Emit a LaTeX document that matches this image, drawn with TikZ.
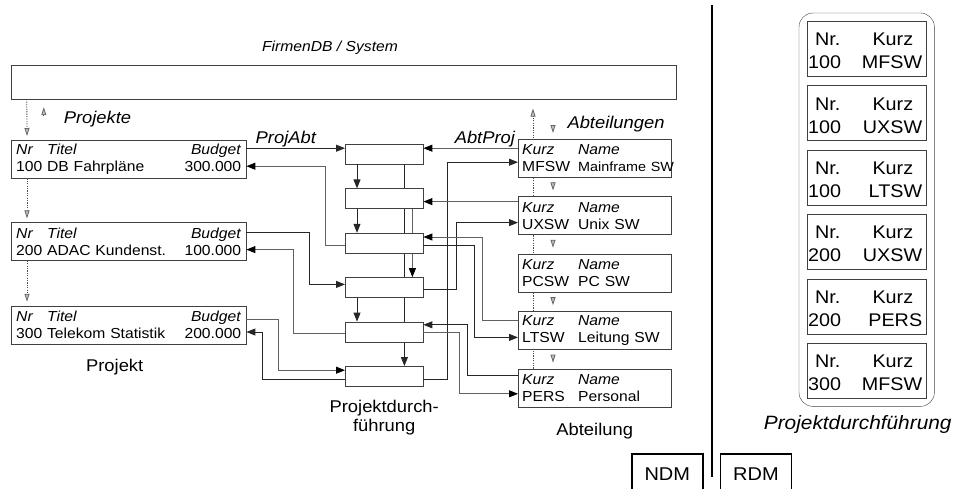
\documentclass[tikz,border=0pt]{standalone}
\usepackage{fontspec}
\setmainfont{Liberation Sans}[FakeStretch=1.08]
\usetikzlibrary{arrows.meta,positioning,fit,backgrounds}

\begin{document}
\begin{tikzpicture}[
  x=1pt, y=1pt,
  font=\fontsize{14.5}{17}\selectfont,
  >={Triangle[length=9pt,width=7pt]},
  sysbox/.style={rectangle, draw=black!75, fill=white, minimum width=665pt, minimum height=34pt},
  projbox/.style={rectangle, draw=black!75, fill=white, text width=225pt, minimum height=38pt,
                  inner xsep=5pt, inner ysep=1pt, align=left},
  abtbox/.style={rectangle, draw=black!75, fill=white, text width=145pt, minimum height=38pt,
                 inner xsep=4pt, inner ysep=1pt, align=left},
  pdbox/.style={rectangle, draw=black!75, fill=white, minimum width=78pt, minimum height=20pt, inner sep=0pt},
  rdmbox/.style={rectangle, draw=black!75, fill=white, text width=117pt, minimum height=55pt,
                 inner xsep=1pt, inner ysep=1pt, align=left, font=\fontsize{18.3}{23}\selectfont},
  pdgroup/.style={rectangle, rounded corners=14pt, draw=black!75, inner sep=8pt},
  modelbox/.style={rectangle, draw=black, line width=1.6pt, minimum width=71pt, minimum height=40pt,
                   font=\fontsize{18.5}{22}\selectfont},
  lbl/.style={inner sep=0pt, font=\fontsize{17}{19}\selectfont},
  ilbl/.style={inner sep=0pt, font=\fontsize{17}{19}\selectfont\itshape},
  link/.style={->, draw=black!85, line width=0.85pt},
  glink/.style={-{Triangle[length=9pt,width=7pt,color=black]}, draw=black!62, line width=0.9pt},
  dotlink/.style={-{Triangle[length=8pt,width=5pt,color=black!60,fill=black!25]}, draw=black!70,
                  line width=0.8pt, dash pattern=on 1.2pt off 1.2pt},
  divider/.style={line width=1.8pt},
]
\useasboundingbox (0,0) rectangle (956,-488);

% FirmenDB
\node[sysbox] (sys) at (343.5,-82) {};
\node[ilbl, font=\fontsize{14.5}{17}\selectfont\itshape, anchor=base] (syslbl) at (330,-51.5) {FirmenDB / System};
\node[ilbl, anchor=base] (projnlbl) at (97.5,-123) {Projekte};
\node[ilbl, anchor=base] (abtnlbl) at (616,-128) {Abteilungen};

% Projekt
\node[projbox, anchor=north west] (p1) at (11,-140) {\makebox[31pt][l]{\textit{Nr}}\textit{Titel}\hfill\textit{Budget}\\100 DB Fahrpläne\hfill 300.000};
\node[projbox, below=44pt of p1] (p2) {\makebox[31pt][l]{\textit{Nr}}\textit{Titel}\hfill\textit{Budget}\\200 ADAC Kundenst.\hfill 100.000};
\node[projbox, below=45pt of p2] (p3) {\makebox[31pt][l]{\textit{Nr}}\textit{Titel}\hfill\textit{Budget}\\300 Telekom Statistik\hfill 200.000};
\node[lbl, below=15pt of p3, xshift=-14pt] (projlbl) {Projekt};

% Projektdurchfuehrung (NDM)
\node[pdbox, anchor=north west] (pd1) at (345,-144) {};
\node[pdbox, below=24pt of pd1] (pd2) {};
\node[pdbox, below=24pt of pd2] (pd3) {};
\node[pdbox, below=24pt of pd3] (pd4) {};
\node[pdbox, below=24pt of pd4] (pd5) {};
\node[pdbox, below=24pt of pd5] (pd6) {};
\node[lbl, align=center, below=14pt of pd6] (pdlbl) {Projektdurch-\\führung};

% Abteilung
\node[abtbox, anchor=north west] (a1) at (518,-139) {\makebox[56pt][l]{\textit{Kurz}}\textit{Name}\\\makebox[56pt][l]{MFSW}{\fontsize{13.3}{17}\selectfont Mainframe~SW}};
\node[abtbox, below=19pt of a1] (a2) {\makebox[56pt][l]{\textit{Kurz}}\textit{Name}\\\makebox[56pt][l]{UXSW}Unix~SW};
\node[abtbox, below=19pt of a2] (a3) {\makebox[56pt][l]{\textit{Kurz}}\textit{Name}\\\makebox[56pt][l]{PCSW}PC~SW};
\node[abtbox, below=19pt of a3] (a4) {\makebox[56pt][l]{\textit{Kurz}}\textit{Name}\\\makebox[56pt][l]{LTSW}Leitung~SW};
\node[abtbox, below=19pt of a4] (a5) {\makebox[56pt][l]{\textit{Kurz}}\textit{Name}\\\makebox[56pt][l]{PERS}Personal};
\node[lbl, below=16pt of a5] (abtlbl) {Abteilung};

% RDM side
\node[rdmbox, anchor=north west] (r1) at (807,-21) {\rule{0pt}{17pt}\makebox[117pt][l]{\hspace{7pt}Nr.\hfill Kurz\hspace{12pt}}\\\makebox[117pt][l]{100\hfill MFSW\hspace{3pt}}};
\node[rdmbox, below=9pt of r1] (r2) {\rule{0pt}{17pt}\makebox[117pt][l]{\hspace{7pt}Nr.\hfill Kurz\hspace{12pt}}\\\makebox[117pt][l]{100\hfill UXSW\hspace{3pt}}};
\node[rdmbox, below=9pt of r2] (r3) {\rule{0pt}{17pt}\makebox[117pt][l]{\hspace{7pt}Nr.\hfill Kurz\hspace{12pt}}\\\makebox[117pt][l]{100\hfill LTSW\hspace{3pt}}};
\node[rdmbox, below=9pt of r3] (r4) {\rule{0pt}{17pt}\makebox[117pt][l]{\hspace{7pt}Nr.\hfill Kurz\hspace{12pt}}\\\makebox[117pt][l]{200\hfill UXSW\hspace{3pt}}};
\node[rdmbox, below=9pt of r4] (r5) {\rule{0pt}{17pt}\makebox[117pt][l]{\hspace{7pt}Nr.\hfill Kurz\hspace{12pt}}\\\makebox[117pt][l]{200\hfill PERS\hspace{3pt}}};
\node[rdmbox, below=9pt of r5] (r6) {\rule{0pt}{17pt}\makebox[117pt][l]{\hspace{7pt}Nr.\hfill Kurz\hspace{12pt}}\\\makebox[117pt][l]{300\hfill MFSW\hspace{3pt}}};
\node[pdgroup, fit=(r1)(r6)] (rdm) {};
\node[ilbl, font=\fontsize{19.3}{22}\selectfont\itshape, below=9pt of rdm, xshift=-9pt] (rdmlbl) {Projektdurchführung};

\node[modelbox, anchor=north west] (ndm) at (631,-453) {NDM};
\node[modelbox, right=16pt of ndm] (rdmtag) {RDM};
\draw[divider] (712,-5) -- (712,-477);

% set chains
\coordinate (pd1l) at ([yshift=6pt]pd1.west);
\coordinate (pd1r) at ([yshift=6pt]pd1.east);
\coordinate (pd2r) at ([yshift=-3pt]pd2.east);

\draw[link] (p1.east |- pd1l) -- node[ilbl, above=1pt, pos=0.4]{ProjAbt} (pd1l);
\draw[link] ([xshift=12pt]pd1.south west) -- ([xshift=12pt]pd2.north west);
\draw[link] ([xshift=12pt]pd2.south west) -- ([xshift=12pt]pd3.north west);
\draw[glink] ([yshift=-2pt]pd3.west) -- ++(-20pt,0) |- ([yshift=-7pt]p1.east);
\draw[link] ([yshift=9pt]p2.east) -- ++(63pt,0) |- ([yshift=3pt]pd4.west);
\draw[link] ([xshift=12pt]pd4.south west) -- ([xshift=12pt]pd5.north west);
\draw[glink] ([yshift=-2pt]pd5.west) -- ++(-52pt,0) |- ([yshift=-8pt]p2.east);
\draw[glink] ([yshift=6pt]p3.east) -- ++(32pt,0) |- ([yshift=6pt]pd6.west);
\draw[link] ([yshift=-3pt]pd6.west) -- ++(-83pt,0) |- ([yshift=-7pt]p3.east);

\draw[glink] (a1.west |- pd1r) -- node[ilbl, above=1pt, pos=0.35]{AbtProj} (pd1r);
\draw[link] ([yshift=-3pt]pd6.east) -- ++(24pt,0) |- ([yshift=-4pt]a1.west);
\draw[glink] (a2.west |- pd2r) -- (pd2r);
\draw[link] ([yshift=-2pt]pd4.east) -- ++(33pt,0) |- ([yshift=-7pt]a2.west);
\draw[glink] ([yshift=10pt]a4.west) -- ++(-36pt,0) |- ([yshift=6pt]pd3.east);
\draw[link] ([yshift=-2pt]pd3.east) -- ++(51pt,0) |- ([yshift=-7pt]a4.west);
\draw[link] ([yshift=12pt]a5.west) -- ++(-51pt,0) |- ([yshift=7pt]pd5.east);
\draw[glink] ([yshift=-1pt]pd5.east) -- ++(36pt,0) |- ([yshift=-6pt]a5.west);

% owner/member marks
\draw[dotlink] ([xshift=16pt]sys.south west) -- ([xshift=16pt,yshift=4pt]p1.north west);
\draw[dotlink] ([xshift=16pt]p1.south west) -- ([xshift=16pt,yshift=4pt]p2.north west);
\draw[dotlink] ([xshift=16pt]p2.south west) -- ([xshift=16pt,yshift=4pt]p3.north west);
\draw[dotlink] ([xshift=33pt,yshift=-16pt]sys.south west) -- ([xshift=33pt,yshift=-8pt]sys.south west);
\draw[dotlink] ([xshift=35pt,yshift=14pt]a1.north west) -- ([xshift=35pt,yshift=6pt]a1.north west);
\draw[dotlink] ([xshift=35pt,yshift=14pt]a2.north west) -- ([xshift=35pt,yshift=6pt]a2.north west);
\draw[dotlink] ([xshift=35pt,yshift=14pt]a3.north west) -- ([xshift=35pt,yshift=6pt]a3.north west);
\draw[dotlink] ([xshift=35pt,yshift=14pt]a4.north west) -- ([xshift=35pt,yshift=6pt]a4.north west);
\draw[dotlink] ([xshift=35pt,yshift=14pt]a5.north west) -- ([xshift=35pt,yshift=6pt]a5.north west);

\begin{scope}[on background layer]
  \draw[dotlink] ([xshift=15pt]a5.north west) -- ++(0,260pt);
  \draw[link] ([xshift=-19pt]pd1.south east) -- ([xshift=-19pt]pd6.north east);
  \draw[glink] ([xshift=-11pt]pd2.south east) -- ([xshift=-11pt]pd4.north east);
\end{scope}

\end{tikzpicture}
\end{document}
